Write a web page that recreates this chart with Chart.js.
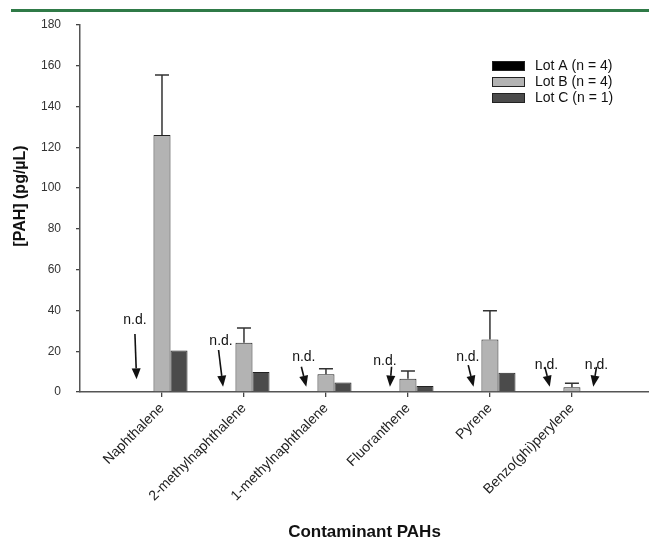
<!DOCTYPE html>
<html><head><meta charset="utf-8">
<script src="https://cdn.jsdelivr.net/npm/chart.js@4"></script>
<style>
html,body{margin:0;padding:0;background:#fff;}
#wrap{position:relative;width:649px;height:541px;overflow:hidden;}
#rule{position:absolute;left:11px;top:9px;width:638px;height:3px;background:#2f7a47;}
canvas{position:absolute;left:0;top:0;}
</style></head><body>
<div id="wrap"><canvas id="c" width="649" height="541"></canvas><div id="rule"></div></div>
<script>
// ---- data ----
const categories = ['Naphthalene','2-methylnaphthalene','1-methylnaphthalene','Fluoranthene','Pyrene','Benzo(ghi)perylene'];
const seriesLabels = ['Lot A (n = 4)','Lot B (n = 4)','Lot C (n = 1)'];
const lotA = [null, null, null, null, null, null];          // not detected
const lotB = [126, 24.2, 8.7, 6.5, 25.7, 2.3];
const lotBErr = [29.5, 7.2, 2.7, 3.8, 14.2, 2.0];
const lotC = [20.4, 9.8, 4.7, 2.9, 9.5, null];
const yMin = 0, yMax = 180, yStep = 20;
const yTitle = '[PAH] (pg/\u00b5L)';
const xTitle = 'Contaminant PAHs';
const ndLabel = 'n.d.';
const ndCategory = [0, 1, 2, 3, 4, 5, 5];   // index into categories
const ndLot = [0, 0, 0, 0, 0, 0, 2];        // index into series

// ---- layout for annotations (in data units, relative to category) ----
const ndLayout = [
  {t:[-0.33,35.3], a:[-0.33,28.4], b:[-0.31,6.2]},
  {t:[-0.28,24.7], a:[-0.31,20.6], b:[-0.255,2.6]},
  {t:[-0.27,17.0], a:[-0.30,12.4], b:[-0.24,2.6]},
  {t:[-0.28,14.9], a:[-0.20,12.4], b:[-0.22,2.6]},
  {t:[-0.27,17.0], a:[-0.265,13.2], b:[-0.20,2.6]},
  {t:[-0.31,13.2], a:[-0.33,12.3], b:[-0.27,2.6]},
  {t:[0.30,13.2],  a:[0.30,12.3],  b:[0.26,2.6]}
];

const FONT = "'Liberation Sans', Arial, Helvetica, sans-serif";
const colors = ['#000000', '#b3b3b3', '#4b4b4b'];
const toPts = arr => arr.map((v, i) => ({x: i + 1, y: v}));

const errorBars = {
  id: 'errorBars',
  afterDatasetsDraw(chart) {
    const meta = chart.getDatasetMeta(1);
    const ys = chart.scales.y;
    const ctx = chart.ctx;
    ctx.save();
    ctx.strokeStyle = '#333';
    ctx.lineWidth = 1.5;
    meta.data.forEach((bar, i) => {
      if (lotB[i] == null || lotBErr[i] == null) return;
      const yTop = ys.getPixelForValue(lotB[i] + lotBErr[i]);
      ctx.beginPath();
      ctx.moveTo(bar.x, bar.y);
      ctx.lineTo(bar.x, yTop);
      ctx.moveTo(bar.x - 7, yTop);
      ctx.lineTo(bar.x + 7, yTop);
      ctx.stroke();
    });
    ctx.restore();
  }
};

const ndPlugin = {
  id: 'ndPlugin',
  afterDatasetsDraw(chart) {
    const xs = chart.scales.x, ys = chart.scales.y, ctx = chart.ctx;
    ctx.save();
    ndCategory.forEach((c, k) => {
      const L = ndLayout[k];
      const px = d => xs.getPixelForValue(c + 1 + d[0]);
      const py = d => ys.getPixelForValue(d[1]);
      ctx.fillStyle = '#111';
      ctx.font = '14px ' + FONT;
      ctx.textAlign = 'center';
      ctx.textBaseline = 'middle';
      ctx.fillText(ndLabel, px(L.t), py(L.t));
      const x1 = px(L.a), y1 = py(L.a), x2 = px(L.b), y2 = py(L.b);
      const ang = Math.atan2(y2 - y1, x2 - x1);
      const hl = 11, hw = 4.5;
      const bx = x2 - hl * Math.cos(ang), by = y2 - hl * Math.sin(ang);
      ctx.strokeStyle = '#111';
      ctx.lineWidth = 1.6;
      ctx.beginPath();
      ctx.moveTo(x1, y1);
      ctx.lineTo(bx, by);
      ctx.stroke();
      ctx.beginPath();
      ctx.moveTo(x2, y2);
      ctx.lineTo(bx + hw * Math.sin(ang), by - hw * Math.cos(ang));
      ctx.lineTo(bx - hw * Math.sin(ang), by + hw * Math.cos(ang));
      ctx.closePath();
      ctx.fill();
    });
    ctx.restore();
  }
};

const legendPlugin = {
  id: 'boxLegend',
  afterDraw(chart) {
    const ctx = chart.ctx;
    const x0 = 492, y0 = 61, row = 16, bw = 33, bh = 10;
    ctx.save();
    chart.data.datasets.forEach((ds, i) => {
      const y = y0 + i * row;
      ctx.fillStyle = ds.backgroundColor;
      ctx.fillRect(x0, y, bw, bh);
      ctx.strokeStyle = '#222';
      ctx.lineWidth = 1;
      ctx.strokeRect(x0 + 0.5, y + 0.5, bw - 1, bh - 1);
      ctx.fillStyle = '#111';
      ctx.font = '14px ' + FONT;
      ctx.textAlign = 'left';
      ctx.textBaseline = 'middle';
      ctx.fillText(ds.label, x0 + bw + 10, y + bh / 2 + 0.5);
    });
    // y-axis title, placed slightly above the axis middle as in the original
    ctx.translate(21, 196);
    ctx.rotate(-Math.PI / 2);
    ctx.fillStyle = '#111';
    ctx.font = 'bold 16px ' + FONT;
    ctx.textAlign = 'center';
    ctx.textBaseline = 'middle';
    ctx.fillText(yTitle, 0, 0);
    ctx.restore();
  }
};

new Chart(document.getElementById('c'), {
  type: 'bar',
  data: {
    datasets: [
      {label: seriesLabels[0], data: toPts(lotA), backgroundColor: colors[0]},
      {label: seriesLabels[1], data: toPts(lotB), backgroundColor: colors[1]},
      {label: seriesLabels[2], data: toPts(lotC), backgroundColor: colors[2]}
    ]
  },
  options: {
    responsive: false,
    animation: false,
    devicePixelRatio: 1,
    layout: {padding: {top: 25, left: 0, right: 0, bottom: 0}},
    datasets: {bar: {barPercentage: 1, categoryPercentage: 0.623, borderWidth: 1, borderColor: '#222', borderSkipped: 'start'}},
    plugins: {legend: {display: false}, tooltip: {enabled: false}},
    scales: {
      x: {
        type: 'linear', min: 0, max: 6.94, offset: false,
        grid: {display: true, offset: false, drawOnChartArea: false, drawTicks: true, tickLength: 5, color: '#444', lineWidth: 1.3},
        border: {display: true, color: '#555', width: 1.5},
        ticks: {
          stepSize: 1, autoSkip: false, minRotation: 45, maxRotation: 45, padding: 3,
          color: '#222', font: {size: 14, family: FONT},
          callback: v => categories[v - 1] ?? ''
        },
        afterBuildTicks: s => { s.ticks = s.ticks.filter(t => Number.isInteger(t.value) && t.value >= 1 && t.value <= categories.length); },
        title: {display: true, text: xTitle, color: '#111', font: {size: 17, weight: 'bold', family: FONT, lineHeight: 1}, padding: {top: 4, bottom: 0}},
        afterFit: s => { s.height = 149; }
      },
      y: {
        min: yMin, max: yMax,
        grid: {display: true, drawOnChartArea: false, drawTicks: true, tickLength: 4, color: '#444', lineWidth: 1.3},
        border: {display: true, color: '#555', width: 1.5},
        ticks: {stepSize: yStep, padding: 15, color: '#333', font: {size: 12, family: FONT}},
        title: {display: false},
        afterFit: s => { s.width = 80; }
      }
    }
  },
  plugins: [errorBars, ndPlugin, legendPlugin]
});
</script>
</body></html>
